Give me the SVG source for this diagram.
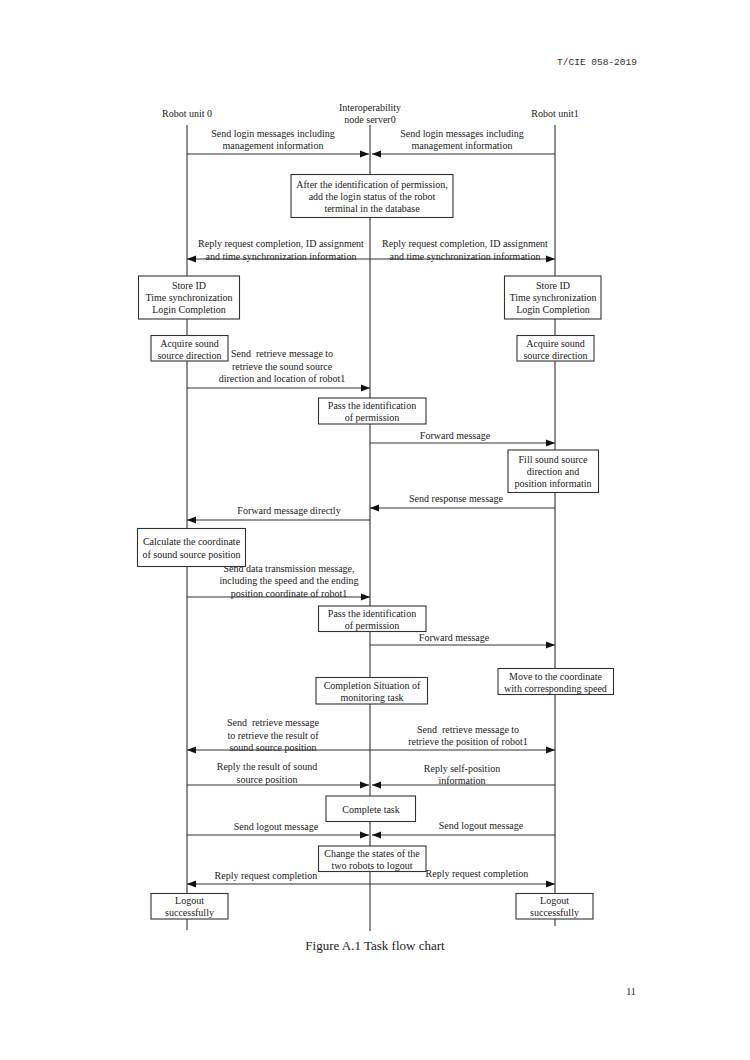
<svg xmlns="http://www.w3.org/2000/svg" width="750" height="1060" viewBox="0 0 750 1060">
<style>
text{font-family:"Liberation Serif","Times New Roman",serif;font-size:10px;fill:#222;text-anchor:middle}
.box{fill:#fff;stroke:#333;stroke-width:1.1}
.life{stroke:#444;stroke-width:1.2;fill:none}
.msg{stroke:#333;stroke-width:1.1;fill:none;marker-end:url(#ah)}
.cap{font-size:13px}
.hdr{font-family:"Liberation Mono","Courier New",monospace;font-size:9.5px;fill:#333}
.pre{white-space:pre}
</style>
<defs>
<marker id="ah" markerUnits="userSpaceOnUse" markerWidth="9" markerHeight="8" refX="9" refY="4" orient="auto">
<path d="M0,0.5 L9,4 L0,7.5 z" fill="#111"/>
</marker>
</defs>
<rect width="750" height="1060" fill="#fff"/>
<text class="hdr" x="597" y="65">T/CIE 058-2019</text>
<text x="631" y="995">11</text>

<g id="lifelines">
<line class="life" x1="187" y1="125" x2="187" y2="930"/>
<line class="life" x1="370" y1="125" x2="370" y2="931"/>
<line class="life" x1="555" y1="125" x2="555" y2="926"/>
</g>

<g id="headers">
<text x="187" y="117">Robot unit 0</text>
<text x="370" y="111">Interoperability</text>
<text x="370" y="123">node server0</text>
<text x="555" y="117">Robot unit1</text>
</g>

<g id="connectors">
<line class="msg" x1="187" y1="154" x2="369" y2="154"/>
<line class="msg" x1="555" y1="154" x2="372" y2="154"/>
<line class="msg" x1="370" y1="259" x2="187" y2="259"/>
<line class="msg" x1="370" y1="259" x2="555" y2="259"/>
<line class="msg" x1="187" y1="388" x2="370" y2="388"/>
<line class="msg" x1="370" y1="443" x2="555" y2="443"/>
<line class="msg" x1="555" y1="508" x2="370" y2="508"/>
<line class="msg" x1="370" y1="520" x2="187" y2="520"/>
<line class="msg" x1="187" y1="597" x2="370" y2="597"/>
<line class="msg" x1="370" y1="645" x2="555" y2="645"/>
<line class="msg" x1="370" y1="750" x2="187" y2="750"/>
<line class="msg" x1="370" y1="750" x2="555" y2="750"/>
<line class="msg" x1="187" y1="785" x2="369" y2="785"/>
<line class="msg" x1="555" y1="785" x2="372" y2="785"/>
<line class="msg" x1="187" y1="835" x2="369" y2="835"/>
<line class="msg" x1="555" y1="835" x2="372" y2="835"/>
<line class="msg" x1="370" y1="884" x2="187" y2="884"/>
<line class="msg" x1="370" y1="884" x2="555" y2="884"/>
</g>

<g id="connector-labels">
<text x="273" y="136.5">Send login messages including</text>
<text x="273" y="148.5">management information</text>
<text x="462" y="136.5">Send login messages including</text>
<text x="462" y="148.5">management information</text>
<text x="281" y="246.5">Reply request completion, ID assignment</text>
<text x="281" y="259.5">and time synchronization information</text>
<text x="465" y="246.5">Reply request completion, ID assignment</text>
<text x="465" y="259.5">and time synchronization information</text>
<text class="pre" x="282" y="357">Send  retrieve message to</text>
<text x="282" y="369.5">retrieve the sound source</text>
<text x="282" y="382">direction and location of robot1</text>
<text x="455" y="438.5">Forward message</text>
<text x="456" y="502">Send response message</text>
<text x="289" y="514">Forward message directly</text>
<text x="289" y="571.5">Send data transmission message,</text>
<text x="289" y="584">including the speed and the ending</text>
<text x="289" y="596.5">position coordinate of robot1</text>
<text x="454" y="640.5">Forward message</text>
<text class="pre" x="273" y="726">Send  retrieve message</text>
<text x="273" y="738.5">to retrieve the result of</text>
<text x="273" y="751">sound source position</text>
<text class="pre" x="468" y="732.5">Send  retrieve message to</text>
<text x="468" y="744.5">retrieve the position of robot1</text>
<text x="267" y="770">Reply the result of sound</text>
<text x="267" y="782.5">source position</text>
<text x="462" y="771.5">Reply self-position</text>
<text x="462" y="783.5">information</text>
<text x="276" y="829.5">Send logout message</text>
<text x="481" y="828.5">Send logout message</text>
<text x="266" y="878.5">Reply request completion</text>
<text x="477" y="876.5">Reply request completion</text>
</g>

<g id="n-login-status">
<rect class="box" x="291" y="174.5" width="162" height="43"/>
<text x="372" y="187.5">After the identification of permission,</text>
<text x="372" y="199.5">add the login status of the robot</text>
<text x="372" y="212">terminal in the database</text>
</g>
<g id="n-store0">
<rect class="box" x="138.5" y="276" width="101" height="43"/>
<text x="189" y="289">Store ID</text>
<text x="189" y="301">Time synchronization</text>
<text x="189" y="313">Login Completion</text>
</g>
<g id="n-store1">
<rect class="box" x="504.5" y="276" width="96.5" height="43"/>
<text x="553" y="289">Store ID</text>
<text x="553" y="301">Time synchronization</text>
<text x="553" y="313">Login Completion</text>
</g>
<g id="n-acquire0">
<rect class="box" x="151" y="335.5" width="77" height="25.5"/>
<text x="189.5" y="346.5">Acquire sound</text>
<text x="189.5" y="358.5">source direction</text>
</g>
<g id="n-acquire1">
<rect class="box" x="517" y="335.5" width="77" height="25.5"/>
<text x="555.5" y="346.5">Acquire sound</text>
<text x="555.5" y="358.5">source direction</text>
</g>
<g id="n-pass1">
<rect class="box" x="318.5" y="398" width="107.5" height="26"/>
<text x="372" y="408.5">Pass the identification</text>
<text x="372" y="420.5">of permission</text>
</g>
<g id="n-fill">
<rect class="box" x="508" y="450" width="90.5" height="42.5"/>
<text x="553" y="463">Fill sound source</text>
<text x="553" y="475">direction and</text>
<text x="553" y="487">position informatin</text>
</g>
<g id="n-calc">
<rect class="box" x="137.5" y="528.5" width="108" height="38"/>
<text x="191.5" y="545">Calculate the coordinate</text>
<text x="191.5" y="557.5">of sound source position</text>
</g>
<g id="n-pass2">
<rect class="box" x="318.5" y="606" width="107.5" height="25.5"/>
<text x="372" y="617">Pass the identification</text>
<text x="372" y="629">of permission</text>
</g>
<g id="n-move">
<rect class="box" x="498" y="668.5" width="115.5" height="26"/>
<text x="555.5" y="679.5">Move to the coordinate</text>
<text x="555.5" y="691.5">with corresponding speed</text>
</g>
<g id="n-completion">
<rect class="box" x="316" y="677.5" width="111.5" height="26.5"/>
<text x="372" y="688.5">Completion Situation of</text>
<text x="372" y="700.5">monitoring task</text>
</g>
<g id="n-complete">
<rect class="box" x="326" y="796" width="89.5" height="25.5"/>
<text x="371" y="812.5">Complete task</text>
</g>
<g id="n-change">
<rect class="box" x="318.5" y="846" width="107.5" height="25.5"/>
<text x="372" y="857">Change the states of the</text>
<text x="372" y="869">two robots to logout</text>
</g>
<g id="n-logout0">
<rect class="box" x="151" y="893.5" width="77" height="25.5"/>
<text x="189.5" y="904">Logout</text>
<text x="189.5" y="916">successfully</text>
</g>
<g id="n-logout1">
<rect class="box" x="516" y="893.5" width="77" height="25.5"/>
<text x="554.5" y="904">Logout</text>
<text x="554.5" y="916">successfully</text>
</g>

<text class="cap" x="375" y="950">Figure A.1 Task flow chart</text>
</svg>
